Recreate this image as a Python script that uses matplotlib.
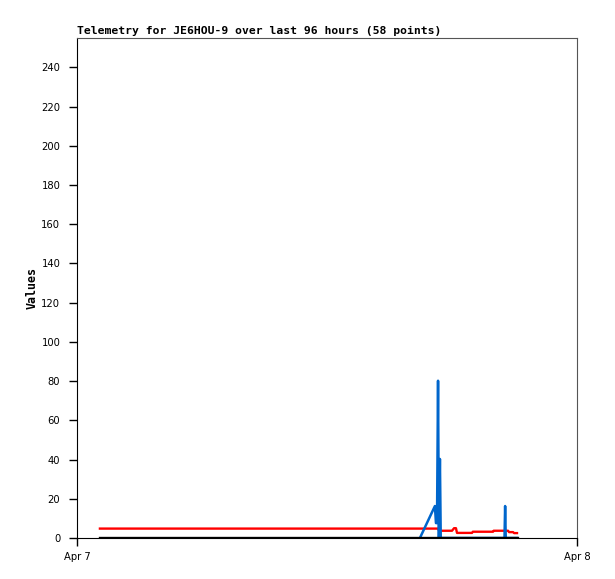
import matplotlib
matplotlib.use('Agg')
import matplotlib.pyplot as plt

# hours after Apr 7 00:00
black_t = [1.10, 8.0, 16.0, 17.3, 18.5, 20.0, 21.12]
black_v = [0, 0, 0, 0, 0, 0, 0]

red_t = [1.10, 17.33, 17.38, 18.0, 18.1, 18.19, 18.24, 18.96, 19.0, 19.97, 20.0, 20.69, 20.74, 20.93, 20.98, 21.12]
red_v = [4.8, 4.8, 3.7, 3.7, 5.0, 5.0, 2.6, 2.6, 3.2, 3.2, 3.7, 3.7, 3.0, 3.0, 2.5, 2.5]

blue_t = [16.46, 17.18, 17.23, 17.28, 17.33, 17.37, 17.42, 17.46, 18.5, 20.52, 20.55, 20.58, 21.12]
blue_v = [0, 16.3, 7.6, 7.6, 80.2, 0, 40.3, 0, 0, 0, 16.3, 0, 0]

xticks = [0, 24]
xticklabels = ['Apr 7', 'Apr 8']
yticks = list(range(0, 241, 20))

fig = plt.figure(figsize=(6.15, 5.79), dpi=100)
ax = fig.add_axes([77/615, 1 - 538/579, 500/615, 500/579])

ax.plot(red_t, red_v, color='#ff0000', lw=1.7)
ax.plot(blue_t, blue_v, color='#0066cc', lw=1.8)
ax.plot(black_t, black_v, color='#000000', lw=2.4)

ax.set_xlim(0, 24)
ax.set_ylim(0, 255)
ax.set_xticks(xticks)
ax.set_xticklabels(xticklabels)
ax.set_yticks(yticks)
ax.tick_params(axis='both', direction='out', length=6, width=1, labelsize=7.2, colors='black')
ax.tick_params(axis='y', pad=6)
ax.tick_params(axis='x', pad=4)

for s in ['top', 'right']:
    ax.spines[s].set_color('#555555')
for s in ['left', 'bottom']:
    ax.spines[s].set_color('black')

ax.set_title('Telemetry for JE6HOU-9 over last 96 hours (58 points)', loc='left',
             fontfamily='DejaVu Sans Mono', fontweight='bold', fontsize=8.2, pad=3)
ax.set_ylabel('Values', fontfamily='DejaVu Sans Mono', fontweight='bold', fontsize=8.4)
ax.yaxis.set_label_coords(-0.076, 0.5)

fig.savefig('out.png', dpi=100)
